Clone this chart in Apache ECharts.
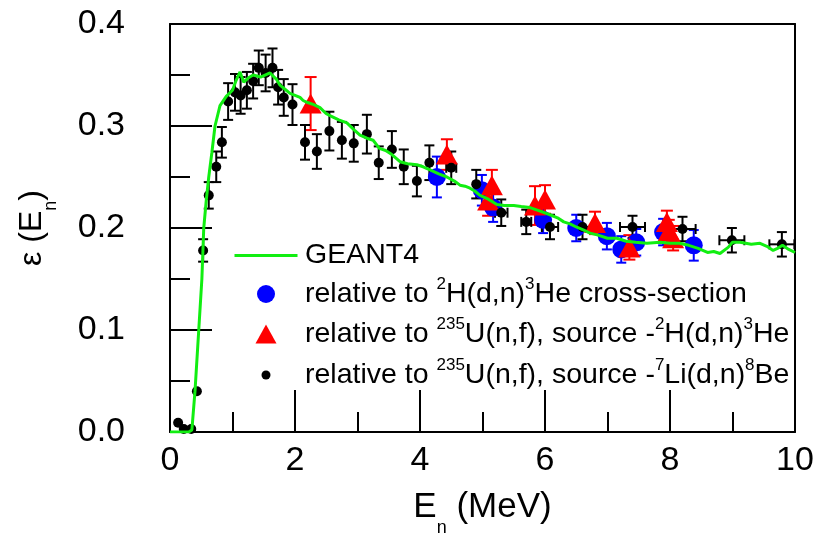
<!DOCTYPE html>
<html><head><meta charset="utf-8">
<script src="https://cdn.jsdelivr.net/npm/echarts@6/dist/echarts.min.js"></script>
<style>html,body{margin:0;padding:0;background:#fff}#c{width:817px;height:533px}</style>
</head><body><div id="c"></div><script>
const FONT = '"Liberation Sans", Arial, Helvetica, sans-serif';

// GEANT4 simulated efficiency [E (MeV), eps]
const geant4 = [
[0,0],[0.1,0],[0.2,0],[0.3,0],[0.35,0.002],[0.4,0.04],[0.46,0.1],[0.51,0.15],[0.54,0.2],[0.58,0.227],
[0.62,0.25],[0.67,0.274],[0.72,0.3],[0.8,0.32],[0.9,0.329],[1.0,0.335],[1.06,0.345],[1.12,0.353],[1.18,0.343],
[1.25,0.347],[1.33,0.35],[1.45,0.348],[1.6,0.352],[1.7,0.346],[1.76,0.34],[1.84,0.336],[1.92,0.332],[2.0,0.33],
[2.08,0.328],[2.13,0.325],[2.2,0.323],[2.3,0.321],[2.4,0.318],[2.5,0.312],[2.6,0.309],[2.7,0.306],[2.83,0.303],
[2.95,0.296],[3.04,0.291],[3.15,0.288],[3.25,0.286],[3.35,0.278],[3.45,0.276],[3.55,0.272],[3.68,0.265],[3.8,0.263],
[3.95,0.262],[4.05,0.26],[4.16,0.257],[4.3,0.253],[4.43,0.25],[4.55,0.246],[4.64,0.242],[4.72,0.241],[4.8,0.239],
[4.88,0.236],[4.96,0.232],[5.1,0.228],[5.23,0.223],[5.35,0.222],[5.5,0.222],[5.62,0.221],[5.76,0.22],[5.9,0.217],
[6.08,0.213],[6.2,0.21],[6.3,0.206],[6.4,0.204],[6.5,0.201],[6.62,0.198],[6.72,0.195],[6.85,0.193],[7.0,0.19],
[7.15,0.19],[7.3,0.187],[7.45,0.186],[7.63,0.185],[7.84,0.186],[8.0,0.185],[8.15,0.185],[8.3,0.183],[8.45,0.18],
[8.6,0.176],[8.7,0.177],[8.8,0.175],[8.93,0.181],[9.0,0.186],[9.12,0.186],[9.3,0.184],[9.44,0.185],[9.55,0.182],
[9.65,0.178],[9.72,0.18],[9.8,0.183],[9.9,0.179],[10,0.176]
];

// relative to 2H(d,n)3He cross-section: [E, eps, dEps]
const rel2H = [
[4.27,0.25,0.02],[4.99,0.237,0.015],[5.17,0.22,0.014],[5.97,0.208,0.013],[6.5,0.2,0.013],
[6.99,0.192,0.013],[7.22,0.179,0.013],[7.46,0.186,0.013],[7.89,0.196,0.013],[8.38,0.183,0.015]
];

// relative to 235U(n,f), source 2H(d,n)3He: [E, eps, dEps]
const relU2H = [
[2.25,0.322,0.026],[4.43,0.272,0.015],[5.09,0.227,0.015],[5.15,0.242,0.015],[5.84,0.222,0.019],
[6.0,0.228,0.014],[6.8,0.205,0.011],[7.35,0.181,0.012],[7.95,0.206,0.011],[7.98,0.197,0.011],[8.05,0.19,0.012]
];

// relative to 235U(n,f), source 7Li(d,n)8Be: [E, eps, dEps, dE]
const relULi = [
[0.13,0.009,0,0],[0.22,0.003,0,0],[0.34,0.003,0,0],[0.43,0.04,0,0],[0.53,0.178,0.011,0],
[0.62,0.232,0.013,0],[0.74,0.26,0.015,0],[0.83,0.284,0.015,0],[0.93,0.324,0.018,0],[1.04,0.333,0.018,0],
[1.13,0.33,0.018,0],[1.23,0.335,0.018,0],[1.33,0.344,0.017,0],[1.42,0.357,0.017,0],[1.53,0.352,0.018,0],
[1.64,0.357,0.019,0],[1.73,0.338,0.017,0],[1.82,0.328,0.018,0],[1.96,0.321,0.02,0],[2.16,0.284,0.017,0],
[2.35,0.275,0.017,0],[2.55,0.295,0.019,0],[2.75,0.286,0.018,0],[2.94,0.283,0.018,0],[3.15,0.292,0.019,0],
[3.34,0.264,0.016,0],[3.55,0.277,0.018,0],[3.74,0.26,0.017,0],[3.95,0.246,0.015,0],[4.15,0.264,0.017,0],
[4.5,0.259,0.016,0.08],[4.9,0.243,0.014,0],[5.3,0.215,0.013,0.1],[5.7,0.206,0.012,0.08],[6.08,0.201,0.012,0.13],
[6.6,0.201,0.012,0.18],[7.4,0.201,0.011,0.2],[8.2,0.199,0.012,0.21],[8.99,0.188,0.012,0.2],[9.79,0.184,0.012,0.2]
];

const legendLabels = {
  'GEANT4': '{m|GEANT4}',
  'rel2H': '{m|relative to }{sup|2}{m|H(d,n)}{sup|3}{m|He cross-section}',
  'relU2H': '{m|relative to }{sup|235}{m|U(n,f), source -}{sup|2}{m|H(d,n)}{sup|3}{m|He}',
  'relULi': '{m|relative to }{sup|235}{m|U(n,f), source -}{sup|7}{m|Li(d,n)}{sup|8}{m|Be}'
};

function errBars(color, cap) {
  return function (params, api) {
    const x = api.value(0), y = api.value(1), ey = api.value(2), ex = api.value(3) || 0;
    const style = {stroke: color, lineWidth: 2};
    const ch = [];
    const seg = (a, b, c, d) => ch.push({type: 'line', shape: {x1: a, y1: b, x2: c, y2: d}, style});
    if (ey > 0) {
      const p1 = api.coord([x, y + ey]), p2 = api.coord([x, y - ey]);
      seg(p1[0], p1[1], p2[0], p2[1]);
      seg(p1[0] - cap, p1[1], p1[0] + cap, p1[1]);
      seg(p2[0] - cap, p2[1], p2[0] + cap, p2[1]);
    }
    if (ex > 0) {
      const q1 = api.coord([x - ex, y]), q2 = api.coord([x + ex, y]);
      seg(q1[0], q1[1], q2[0], q2[1]);
      seg(q1[0], q1[1] - cap, q1[0], q1[1] + cap);
      seg(q2[0], q2[1] - cap, q2[0], q2[1] + cap);
    }
    return {type: 'group', children: ch};
  };
}

// legend row: icon centred at x=266, text starting at x=305
const ICON_CX = 266, TEXT_X = 305;
function legend(name, top, icon, w, h) {
  const left = ICON_CX - w / 2;
  const spacer = Math.max(0, TEXT_X - (left + w + 5));
  return {
    data: [{name: name, icon: icon}], left: left, top: top, orient: 'vertical', padding: 0,
    itemWidth: w, itemHeight: h, selectedMode: false, symbolKeepAspect: false,
    formatter: n => '{sp| }' + legendLabels[n],
    textStyle: {
      color: '#000', fontFamily: FONT, fontSize: 28.5,
      rich: {
        sp: {width: spacer, fontSize: 28.5, lineHeight: 36},
        m: {fontSize: 28.5, fontFamily: FONT, color: '#000', lineHeight: 36},
        sup: {fontSize: 17, fontFamily: FONT, color: '#000', verticalAlign: 'top'}
      }
    }
  };
}

const black = '#000';
const chart = echarts.init(document.getElementById('c'), null, {renderer: 'canvas'});
chart.setOption({
  animation: false,
  backgroundColor: '#fff',
  grid: {left: 170, right: 22, top: 24, bottom: 101, containLabel: false, outerBoundsMode: 'none'},
  legend: [
    legend('GEANT4', 241, 'rect', 63, 3),
    legend('rel2H', 276, 'circle', 18, 18),
    legend('relU2H', 316, 'triangle', 21, 19),
    legend('relULi', 357, 'circle', 9, 9)
  ],
  xAxis: [{
    type: 'value', min: 0, max: 10, interval: 2, position: 'bottom',
    name: '{m|E}{sub|n}{m| (MeV)}', nameLocation: 'middle', nameGap: 45,
    nameTextStyle: {
      fontFamily: FONT, color: black,
      rich: {
        m: {fontSize: 35, fontFamily: FONT, color: black, lineHeight: 60},
        sub: {fontSize: 18, fontFamily: FONT, color: black, verticalAlign: 'bottom'}
      }
    },
    axisLine: {show: true, onZero: false, lineStyle: {color: black, width: 2}},
    axisTick: {show: true, inside: true, length: 42, lineStyle: {color: black, width: 2}},
    minorTick: {show: true, splitNumber: 2, length: 20, lineStyle: {color: black, width: 2}},
    axisLabel: {fontSize: 34, fontFamily: FONT, color: black, margin: 12},
    splitLine: {show: false}
  }, {
    type: 'value', min: 0, max: 10, interval: 2, position: 'top',
    axisLine: {show: true, onZero: false, lineStyle: {color: black, width: 2}},
    axisTick: {show: false}, axisLabel: {show: false}, splitLine: {show: false}
  }],
  yAxis: [{
    type: 'value', min: 0, max: 0.4, interval: 0.1, position: 'left',
    name: '{m|ε (E}{sub|n}{m|)}', nameLocation: 'middle', nameGap: 110, nameRotate: 90,
    nameTextStyle: {
      fontFamily: FONT, color: black,
      rich: {
        m: {fontSize: 32, fontFamily: FONT, color: black, lineHeight: 56},
        sub: {fontSize: 18, fontFamily: FONT, color: black, verticalAlign: 'bottom'}
      }
    },
    axisLine: {show: true, onZero: false, lineStyle: {color: black, width: 2}},
    axisTick: {show: true, inside: true, length: 42, lineStyle: {color: black, width: 2}},
    minorTick: {show: true, splitNumber: 2, length: 20, lineStyle: {color: black, width: 2}},
    axisLabel: {fontSize: 34, fontFamily: FONT, color: black, margin: 45, formatter: v => v.toFixed(1)},
    splitLine: {show: false}
  }, {
    type: 'value', min: 0, max: 0.4, interval: 0.1, position: 'right',
    axisLine: {show: true, onZero: false, lineStyle: {color: black, width: 2}},
    axisTick: {show: false}, axisLabel: {show: false}, splitLine: {show: false}
  }],
  series: [
    {name: 'GEANT4', type: 'line', data: geant4, symbol: 'none', showSymbol: false, silent: true,
     lineStyle: {color: '#11ee11', width: 3}, itemStyle: {color: '#11ee11'}},
    {name: 'rel2H-err', type: 'custom', data: rel2H, encode: {x: 0, y: 1}, silent: true,
     renderItem: errBars('#0000ff', 5)},
    {name: 'rel2H', type: 'scatter', data: rel2H.map(d => [d[0], d[1]]), symbol: 'circle', symbolSize: 18,
     silent: true, itemStyle: {color: '#0000ff', opacity: 1}},
    {name: 'relU2H-err', type: 'custom', data: relU2H, encode: {x: 0, y: 1}, silent: true,
     renderItem: errBars('#ff0000', 6)},
    {name: 'relU2H', type: 'scatter', data: relU2H.map(d => [d[0], d[1]]), symbol: 'triangle', symbolSize: [22, 20],
     silent: true, itemStyle: {color: '#ff0000', opacity: 1}},
    {name: 'relULi-err', type: 'custom', data: relULi, encode: {x: 0, y: 1}, silent: true,
     renderItem: errBars('#000000', 5)},
    {name: 'relULi', type: 'scatter', data: relULi.map(d => [d[0], d[1]]), symbol: 'circle', symbolSize: 10,
     silent: true, itemStyle: {color: '#000000', opacity: 1}}
  ]
});
</script></body></html>
